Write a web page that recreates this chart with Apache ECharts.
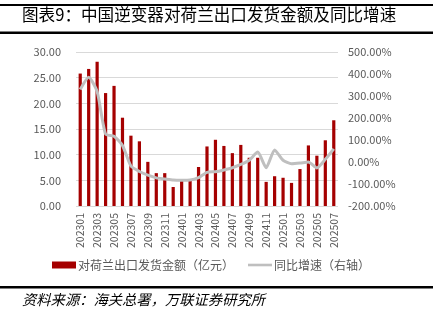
<!DOCTYPE html>
<html>
<head>
<meta charset="utf-8">
<script src="https://cdn.jsdelivr.net/npm/echarts@6/dist/echarts.min.js"></script>
<style>
html,body{margin:0;padding:0;background:#fff;}
#c{width:433px;height:324px;}
</style>
</head>
<body>
<div id="c"></div>
<script>
const categories = ['202301','202302','202303','202304','202305','202306','202307','202308','202309','202310','202311','202312',
  '202401','202402','202403','202404','202405','202406','202407','202408','202409','202410','202411','202412',
  '202501','202502','202503','202504','202505','202506','202507'];
const exportValues = [25.8, 26.7, 28.1, 22.0, 23.4, 17.2, 13.7, 12.6, 8.6, 6.4, 6.4, 3.7,
  4.9, 4.9, 7.6, 11.6, 12.9, 11.7, 10.3, 11.9, 9.4, 9.4, 4.7, 5.8,
  5.5, 4.5, 7.2, 11.8, 9.8, 12.8, 16.7];
const yoyValues = [330, 385, 320, 127, 117, 75, -18, -43, -60, -72, -77, -82,
  -83, -82, -71, -47, -44, -36, -26, -11, 8, 45, -26, 55,
  8, -8, -5, 0, -27, 12, 60];
const seriesNames = ['对荷兰出口发货金额（亿元）', '同比增速（右轴）'];
const titleText = '图表9：中国逆变器对荷兰出口发货金额及同比增速';
const sourceText = '资料来源：海关总署，万联证券研究所';

const FONT = '"Noto Sans CJK SC", "Noto Sans", sans-serif';
const chart = echarts.init(document.getElementById('c'), null, {renderer: 'canvas'});
chart.setOption({
  animation: false,
  backgroundColor: '#fff',
  textStyle: {fontFamily: FONT},
  title: {
    text: titleText,
    left: 20, top: 6,
    padding: [0, 0, 0, 2],
    textStyle: {fontSize: 16.6, fontWeight: 'normal', color: '#000', fontFamily: FONT}
  },
  graphic: [
    {type: 'rect', left: 0, top: 4, shape: {width: 433, height: 2}, style: {fill: '#000'}},
    {type: 'rect', left: 0, top: 31.5, shape: {width: 433, height: 2.5}, style: {fill: '#000'}},
    {type: 'rect', left: 0, top: 286, shape: {width: 433, height: 2.5}, style: {fill: '#000'}},
    {type: 'text', left: 22, top: 292, style: {text: sourceText, fontSize: 14.3, fontStyle: 'italic', fill: '#000', fontFamily: FONT}}
  ],
  legend: {
    left: 52, top: 259,
    padding: 0,
    itemGap: 14,
    itemWidth: 24, itemHeight: 7,
    textStyle: {fontSize: 12, color: '#595959', fontFamily: FONT, padding: [0, 0, 0, -3]},
    data: [
      {name: seriesNames[0], icon: 'rect'},
      {name: seriesNames[1], icon: 'path://M0,0 L24,0 L24,2.6 L0,2.6 Z'}
    ]
  },
  grid: {left: 76, right: 95, top: 52, bottom: 118, containLabel: false},
  xAxis: {
    type: 'category',
    data: categories,
    axisLine: {show: false},
    axisTick: {show: false},
    axisLabel: {interval: 1, rotate: 90, fontSize: 10.5, color: '#595959', margin: 7, fontFamily: FONT}
  },
  yAxis: [
    {
      type: 'value', min: 0, max: 30, interval: 5,
      axisLine: {show: false}, axisTick: {show: false},
      splitLine: {lineStyle: {color: '#D9D9D9', width: 1}},
      axisLabel: {fontSize: 11, color: '#595959', margin: 15, formatter: v => v.toFixed(2), fontFamily: FONT}
    },
    {
      type: 'value', min: -200, max: 500, interval: 100,
      axisLine: {show: false}, axisTick: {show: false},
      splitLine: {show: false},
      axisLabel: {fontSize: 11, color: '#595959', margin: 10, formatter: v => v.toFixed(2) + '%', fontFamily: FONT}
    }
  ],
  series: [
    {
      name: seriesNames[0], type: 'bar', data: exportValues,
      barWidth: 3.2,
      itemStyle: {color: '#A50000'}
    },
    {
      name: seriesNames[1], type: 'line', yAxisIndex: 1, data: yoyValues,
      symbol: 'none', smooth: 0.2,
      lineStyle: {color: '#BFBFBF', width: 3},
      itemStyle: {color: '#BFBFBF'}
    }
  ]
});
</script>
</body>
</html>
